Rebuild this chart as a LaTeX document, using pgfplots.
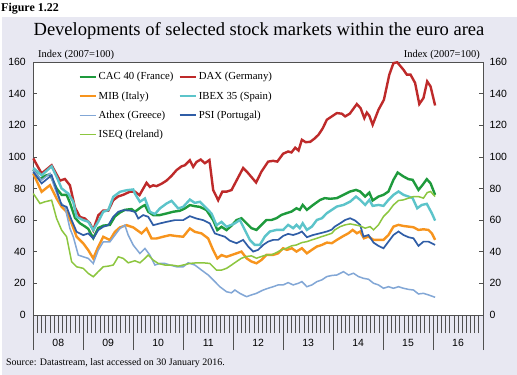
\documentclass[border=0pt]{standalone}
\usepackage{fontspec}
\setmainfont{Liberation Serif}
\newfontfamily\arial{Liberation Sans}
\usepackage{pgfplots}
\pgfplotsset{compat=1.18}
\definecolor{bgc}{HTML}{E8E8F2}
\definecolor{cac}{HTML}{1E9A3C}
\definecolor{dax}{HTML}{BE2A2A}
\definecolor{mib}{HTML}{F7941D}
\definecolor{ibex}{HTML}{5CC4CA}
\definecolor{athex}{HTML}{82A7D6}
\definecolor{psi}{HTML}{2F5DA6}
\definecolor{iseq}{HTML}{8CC63F}
\definecolor{axc}{HTML}{505050}
\pgfplotsset{
  common/.style={at={(33.3bp,60bp)}, anchor=south west, scale only axis,
    width=449.7bp, height=253bp, xmin=0, xmax=108, ymin=0, ymax=160,
    axis line style={draw=axc, line width=0.7pt},
    tick style={draw=axc, line width=0.7pt},
    tick label style={font=\arial\fontsize{10.5}{12}\selectfont},
    /pgf/number format/assume math mode=true},
}
\begin{document}
\begin{tikzpicture}
\useasboundingbox (0bp,0bp) rectangle (517bp,375bp);
\fill[bgc] (2bp,0bp) rectangle (517bp,358bp);
\node[anchor=west, font=\bfseries\fontsize{12}{14}\selectfont, inner sep=0] at (1bp,366bp) {Figure 1.22};
\node[font=\fontsize{18.6}{22}\selectfont, inner sep=0] at (259bp,344bp) {Developments of selected stock markets within the euro area};
\node[anchor=base west, font=\fontsize{10.5}{12}\selectfont, inner sep=0] at (38bp,317bp) {Index (2007=100)};
\node[anchor=base east, font=\fontsize{10.5}{12}\selectfont, inner sep=0] at (480bp,317bp) {Index (2007=100)};
\node[anchor=base west, font=\fontsize{10}{12}\selectfont, inner sep=0] at (6bp,10bp) {Source: Datastream, last accessed on 30 January 2016.};

% ticks on x axis
\begin{axis}[common, axis background/.style={fill=white},
  xtick={0,12,...,108}, xticklabels={}, major tick length=35bp,
  minor xtick={0,1,...,108}, minor tick length=18bp, tick align=outside,
  xtick pos=bottom, ytick=\empty]
\end{axis}
% y ticks left labels
\begin{axis}[common, xtick=\empty, ytick={0,20,...,160}, ytick pos=both,
  yticklabel pos=left, tick align=inside, major tick length=4bp,
  yticklabel style={xshift=-4bp}]
\end{axis}
% y labels right
\begin{axis}[common, xtick=\empty, ytick={0,20,...,160}, ytick pos=right,
  yticklabel pos=right, tick align=inside, major tick length=4bp,
  yticklabel style={xshift=3bp}]
\end{axis}
% data
\begin{axis}[common,
  xtick={6,18,...,102}, xticklabels={08,09,10,11,12,13,14,15,16},
  xtick pos=bottom, xtick style={draw=none}, xticklabel style={yshift=-21bp},
  ytick=\empty, clip=false,
  legend columns=2,
  legend style={draw=none, fill=none, at={(0.093,0.975)}, anchor=north west,
    font=\fontsize{10.8}{12}\selectfont, row sep=6.2bp,
    /tikz/every even column/.append style={column sep=3bp}},
  legend cell align=left,
  legend image code/.code={\draw[#1] (0bp,0bp) -- (16bp,0bp);}]
\addplot[cac, line width=2.4bp] coordinates {(0,92) (1.6,86) (2.8,88) (4,89) (5.6,80) (6.8,76) (8,76) (8.8,71) (10,61.5) (11.2,58) (12.4,56) (13.2,54.5) (14.4,48.6) (15.6,55) (16.8,56.5) (18.4,57) (19.6,62.3) (20.8,64.8) (22,66.5) (23.6,67) (24.4,65.3) (26,68.4) (26.8,69.5) (27.6,65.3) (28.8,63.2) (30.4,63.2) (32,64.2) (33.6,65.3) (35.2,65.9) (36.4,67.4) (37.6,69.5) (38.8,68.8) (40,68.4) (41.6,66.3) (43.2,60) (44.2,53.7) (45.2,55.8) (46.4,53.7) (47.6,56.5) (48.8,60) (50,61.2) (51.2,58) (52.4,54.9) (53.6,53.8) (54.8,57) (56,60.1) (57.2,60.1) (58.4,61.2) (59.6,63.3) (60.8,64.4) (62,65.4) (63.2,67.5) (64,66.5) (64.7,69.6) (65.7,66.5) (67.2,69.6) (68.9,72.8) (70,73.9) (71.3,73.5) (72.9,73.9) (74.5,76) (76.1,78.1) (77.5,79.1) (78.5,78.1) (79.7,74.9) (80.7,77.4) (81.5,72.4) (82.9,74.9) (84.1,76) (85.3,78.1) (86.5,85.5) (87.5,90.1) (88.9,87.6) (90.1,85.9) (91.1,85.5) (92.5,79.1) (93.5,82.3) (94.5,85.9) (95.4,83.3) (96.5,76)};
\addlegendentry{CAC 40 (France)}
\addplot[dax, line width=2.4bp] coordinates {(0,99) (2,89.5) (4.4,94.7) (6.4,85) (7.6,86) (8.8,82) (10,68) (11.2,62) (12.4,61) (13.6,58) (14.4,53.7) (15.6,63) (16.8,66) (18,66) (19.2,72.6) (20.4,75) (21.6,76) (23.2,78) (24.4,78) (25.5,75.8) (27.2,83.6) (28,81) (28.8,82) (29.6,81.5) (30.8,83) (32,85) (33.2,88) (34.4,91.6) (35.6,94) (36.4,94.7) (37.6,97.9) (38.4,93.7) (39.2,96.8) (40.2,98.3) (41.2,96) (42.3,98) (43.2,79) (44.4,72.6) (45.4,78) (46.4,78) (47.6,79) (48.8,85) (50.4,93) (51.5,90) (53.5,83.8) (54.8,90.7) (56.4,97) (57.6,97.5) (58.6,97) (60,102) (61.2,103.4) (62,102.8) (62.9,105.8) (63.7,104) (64.5,110.8) (65.4,109.3) (66.5,109.5) (67.5,111.5) (68.5,114) (69.5,118) (70.5,123.5) (71.7,125.6) (72.9,127.7) (74.1,127.3) (74.9,125.6) (76,127.3) (77.7,133.4) (78.6,130.8) (79.5,124.5) (80.1,128) (80.7,126) (81.5,120.3) (82.9,129.8) (84.2,136.1) (85.5,152) (86.5,159.3) (87.4,159.8) (88.9,155.1) (89.7,152) (90.6,152) (91.7,146.7) (92.7,133.4) (93.7,137.2) (94.6,147.7) (95.4,144.6) (96.5,132.5)};
\addlegendentry{DAX (Germany)}
\addplot[mib, line width=2.4bp] coordinates {(0,89.5) (2,77.9) (4,82.1) (5.6,73.7) (6.8,68.4) (8,65.3) (9.2,57.9) (10.4,49.5) (12,45.3) (13.2,41) (14.4,35.8) (15.6,43.2) (16.8,49.5) (18.4,47.4) (19.6,52.6) (20.8,55.4) (22.4,56.8) (24,55.4) (26,51.6) (27.2,54.7) (28.4,48.4) (29.6,48.4) (31.2,49.5) (32.8,50.5) (34.4,49.9) (36,49.5) (37.6,54.7) (38.8,52.6) (40.4,51.6) (42,48.4) (43.2,41) (44.2,35.8) (45.2,37.9) (46.4,36.8) (47.6,37.9) (48.8,39) (50,40.1) (51.2,35.9) (52.4,33.8) (53.6,32.7) (54.8,34.8) (56,38) (57.6,38) (58.8,39) (60,42.2) (60.9,41.2) (62.1,42.2) (63.2,40.1) (64.5,42.2) (65.7,39) (66.9,41.2) (68.1,43.3) (69.3,44.3) (70.5,45.8) (71.7,45.4) (72.9,47.5) (74.5,50) (75.7,51.7) (76.7,53.8) (77.7,51.7) (78.5,52.8) (79.4,48.5) (80.5,49.6) (81.7,47.5) (82.9,47.5) (84.1,47.5) (85.3,50.6) (86.5,55.9) (87.7,57) (88.9,56.3) (90.1,55.9) (91.3,55.5) (92.5,53.8) (93.7,54.2) (94.9,53.8) (95.7,51.7) (96.5,47.5)};
\addlegendentry{MIB (Italy)}
\addplot[ibex, line width=2.4bp] coordinates {(0,93) (2,88.4) (4.4,94) (5.6,87.4) (6.8,80) (8.4,76.8) (9.6,71.6) (10.4,62.1) (12,60) (13.2,59) (14.4,53.7) (15.6,59) (16.8,65.3) (18,66.3) (19.2,74.7) (20.8,77.9) (22.4,78.9) (24,79.4) (24.4,76.8) (25.6,71.6) (26.8,73.7) (28,65.3) (29.2,63.8) (30.4,67.4) (32,70.5) (33.2,72.2) (34.8,67.4) (36,68.4) (37.6,73) (38.8,70.9) (40,71.6) (41.6,67.4) (42.8,64.2) (44,56.8) (45.2,58.9) (46.4,55.8) (47.6,57) (48.4,58) (49.6,60.1) (50.8,53.8) (52,47.5) (53.2,44.3) (54.4,44.3) (55.6,49.6) (56.8,52.8) (58.4,53.8) (60,53.8) (61.2,57) (62.4,54.9) (63.2,57) (64,54.9) (64.7,58) (65.7,53.8) (66.9,55.9) (68.1,60.1) (69.3,61.2) (70.5,64.4) (71.7,66.5) (72.9,68.6) (74.5,69.6) (76.1,71.7) (77.5,74.9) (78.5,72.8) (79.7,69.6) (80.7,72.8) (81.5,69) (82.9,69.6) (84.1,69) (85.3,72.8) (86.5,76) (87.7,78.1) (88.9,76) (90.1,74.9) (91.1,73.9) (92.2,67.5) (93.3,69.6) (94.5,70.3) (95.7,64.4) (96.5,59.7)};
\addlegendentry{IBEX 35 (Spain)}
\addplot[athex, line width=1.5bp] coordinates {(0,91.6) (2,85.3) (4,89.5) (5.2,80) (6.4,71.6) (7.6,68.4) (8.8,54.7) (9.6,49.5) (10.8,37.9) (12,36.8) (13.2,35.8) (14.4,32.6) (15.6,41) (16.8,46.3) (18.4,46.3) (19.6,50.5) (20.8,54.7) (22,56.8) (22.8,50.5) (24,44.2) (25.6,38.9) (26.8,42.1) (28,37.9) (29.2,31.6) (30.4,32.6) (31.6,32.6) (32.8,31.6) (34.4,30.5) (36,30.5) (37.2,33) (38.8,31.6) (40.4,28.4) (42,25.3) (43.6,21.1) (44.8,17.9) (46.4,14.7) (47.6,14) (48.4,15.8) (49.6,13.7) (51.2,11.6) (52.4,12.7) (53.6,13.7) (55.2,15.8) (56.4,16.9) (57.6,17.9) (58.8,19) (60,19) (61.2,20.5) (62.4,19) (63.7,20.1) (64.5,21.1) (65.7,17.9) (66.9,19) (68.1,21.1) (69.3,22.2) (70.5,24.3) (71.7,25) (72.9,25.3) (74.5,27.4) (75.7,25.3) (76.9,26.4) (78.1,24.3) (79.3,23.2) (80.5,22.6) (81.7,20.1) (82.9,19) (84.1,16.9) (85.3,17.9) (86.5,16.9) (87.7,17.9) (88.9,16.9) (90.1,16.2) (91.3,15.8) (92.5,13.3) (93.7,13.7) (94.9,12.7) (96.5,11.2)};
\addlegendentry{Athex (Greece)}
\addplot[psi, line width=1.7bp] coordinates {(0,90.5) (2,83.2) (4.4,88.4) (5.6,78.9) (6.8,69.5) (8,68.4) (9.2,60) (10.4,52.6) (12,50.5) (13.2,51.6) (14.4,48.4) (15.6,53.7) (16.8,55.8) (18,56.8) (19.2,62.1) (20.4,65.3) (21.6,66.3) (23.2,66) (24.4,65.3) (25.2,61) (26.4,63.2) (27.6,62.1) (28.8,56.8) (30.4,57.9) (32,58.9) (34,60) (36,60) (37.6,62.5) (39.2,61) (40.8,60) (42.4,57.9) (43.6,51.6) (44.8,50.5) (46,49.5) (47.2,47) (48.8,45.4) (50.4,47.5) (51.6,43.3) (52.8,40.1) (54,41.2) (55.2,44.3) (56.4,46.4) (57.6,47.5) (58.8,47.5) (60,50) (61.2,51.3) (62.4,50.6) (63.7,51.7) (64.5,52.8) (65.7,49.2) (67.2,50.6) (68.9,51.7) (70.5,52.8) (71.7,54) (72.4,55.9) (73.7,58) (74.9,60.1) (76.1,61.2) (77.3,59.7) (78.5,57) (79.3,49.6) (80.5,50.6) (81.7,45.8) (82.9,43.7) (84.1,42.2) (85.3,46.4) (86.5,50.6) (87.7,52.8) (88.9,50.6) (90.1,49.2) (91.3,48.5) (92.5,43.7) (93.7,46.4) (94.9,46.4) (96.5,44.3)};
\addlegendentry{PSI (Portugal)}
\addplot[iseq, line width=1.5bp] coordinates {(0,76.8) (1.6,70.5) (2.8,71.6) (4.4,72.6) (5.6,61) (6.8,53.7) (8,49.5) (9.2,33.7) (10.4,30.5) (12,29.5) (13.2,26.3) (14.4,24.2) (15.6,27.4) (16.8,30.5) (18,30.9) (19.2,31.6) (20.4,36.8) (21.6,35.8) (22.8,33) (24.4,34.3) (25.6,33) (26.8,35.8) (27.6,37.9) (28.8,34.7) (30,32.6) (31.6,31.6) (33.2,31.6) (34.8,30.9) (36,31.6) (37.6,32.6) (39.2,33) (40.8,33) (42.4,32.6) (44,28.4) (45.2,28.4) (46.4,29.5) (47.6,31.6) (48.8,33.8) (50,35.9) (51.2,37) (52.4,37.4) (53.6,35.9) (54.8,37) (56,38) (57.2,38) (58.4,39.5) (59.6,41.2) (60.8,42.2) (62,43.7) (63.2,44.3) (64.5,45.8) (65.7,46.4) (66.9,47.5) (68.1,48.5) (69.3,49.6) (70.5,50.6) (71.7,51.7) (72.4,53.8) (73.7,55.9) (74.9,57) (76.1,57.6) (77.3,57) (78.5,56.3) (79.7,54.9) (80.9,55.9) (81.7,53.8) (82.9,57) (84.1,62.3) (85.3,65.4) (86.5,69.6) (87.7,72.4) (88.9,72.8) (90.1,73.9) (91.3,74.9) (92.5,74.9) (93.7,73.9) (94.6,77.4) (95.4,78.1) (96.5,74.9)};
\addlegendentry{ISEQ (Ireland)}
\end{axis}
\end{tikzpicture}
\end{document}
